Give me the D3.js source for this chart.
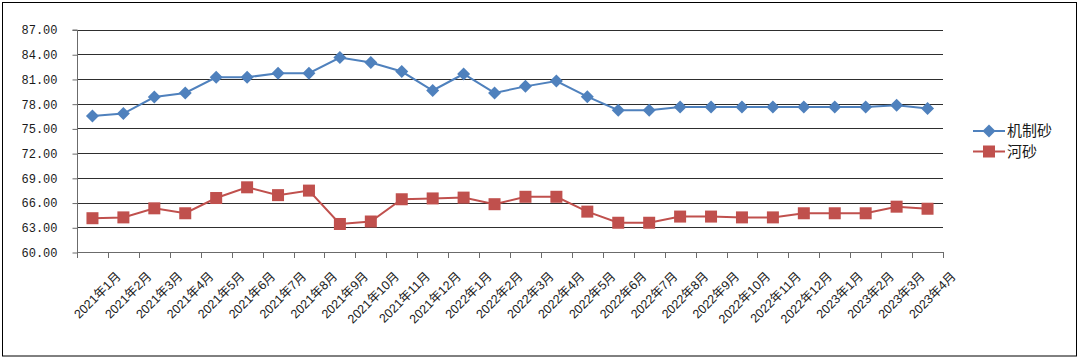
<!DOCTYPE html>
<html><head><meta charset="utf-8">
<script src="https://cdn.jsdelivr.net/npm/d3@7"></script>
<style>body{margin:0;background:#fff;} svg{display:block;}</style>
</head><body>
<svg id="c" width="1080" height="358"></svg>
<script>
const categories = ["2021年1月","2021年2月","2021年3月","2021年4月","2021年5月","2021年6月","2021年7月","2021年8月","2021年9月","2021年10月","2021年11月","2021年12月","2022年1月","2022年2月","2022年3月","2022年4月","2022年5月","2022年6月","2022年7月","2022年8月","2022年9月","2022年10月","2022年11月","2022年12月","2023年1月","2023年2月","2023年3月","2023年4月"];
const jizhisha = [76.5,76.8,78.8,79.3,81.2,81.2,81.7,81.7,83.6,83.0,81.9,79.6,81.6,79.3,80.1,80.75,78.85,77.2,77.2,77.6,77.6,77.6,77.6,77.6,77.6,77.6,77.8,77.4];
const hesha = [64.1,64.2,65.3,64.7,66.55,67.85,66.9,67.45,63.4,63.7,66.4,66.5,66.6,65.8,66.7,66.7,64.9,63.55,63.55,64.3,64.3,64.2,64.2,64.7,64.7,64.7,65.5,65.25];
const yTicks = [60,63,66,69,72,75,78,81,84,87];
const seriesNames = ["机制砂","河砂"];
const colors = ["#4F81BD","#C0504D"];

const svg = d3.select("#c");
svg.append("rect").attr("x",2.5).attr("y",2.5).attr("width",1074).attr("height",353.5)
  .attr("fill","#fff").attr("stroke","#000").attr("stroke-width",1);

const x0 = 77, x1 = 943;
const x = d3.scaleBand().domain(categories).range([x0,x1]);
const y = d3.scaleLinear().domain([60,87]).range([252,29.5]);

const g = svg.append("g");
g.selectAll("line.grid").data(yTicks.filter(d=>d>60)).join("line").attr("class","grid")
  .attr("x1",x0).attr("x2",x1)
  .attr("y1",d=>Math.round(y(d))+0.5).attr("y2",d=>Math.round(y(d))+0.5)
  .attr("stroke","#2e2e2e").attr("stroke-width",1);

const yAxis = d3.axisLeft(y).tickValues(yTicks).tickSize(5).tickPadding(15).tickFormat(d3.format(".2f"));
const ya = svg.append("g").attr("transform",`translate(${x0+0.5},0.5)`).call(yAxis);
ya.select(".domain").attr("stroke","#6b6b6b").attr("d",`M-5,${y(87)}H0V${y(60)}`);
ya.selectAll(".tick line").attr("stroke","#6b6b6b");
ya.selectAll("text").attr("font-family","'Liberation Mono', monospace").attr("font-size",12).attr("fill","#1a1a1a");

const bounds = categories.map(c=>x(c)).concat([x1]);
svg.append("line").attr("x1",x0).attr("x2",x1).attr("y1",252.5).attr("y2",252.5).attr("stroke","#6b6b6b");
svg.selectAll("line.xt").data(bounds).join("line").attr("class","xt")
  .attr("x1",d=>Math.round(d)+0.5).attr("x2",d=>Math.round(d)+0.5).attr("y1",252).attr("y2",258)
  .attr("stroke","#6b6b6b");

svg.selectAll("text.xl").data(categories).join("text").attr("class","xl")
  .attr("transform",d=>`translate(${x(d)+x.bandwidth()/2+22},270) rotate(-45)`)
  .attr("text-anchor","end").attr("dy","0.8em")
  .attr("font-family","'Liberation Sans','Noto Sans CJK SC',sans-serif").attr("font-size",12.5).attr("fill","#1a1a1a")
  .text(d=>d);

const cx = d=>x(d)+x.bandwidth()/2;
const line = d3.line().x((d,i)=>cx(categories[i])).y(d=>y(d));
[jizhisha, hesha].forEach((vals,si)=>{
  svg.append("path").datum(vals).attr("d",line).attr("fill","none")
    .attr("stroke",colors[si]).attr("stroke-width",2);
});
svg.selectAll("path.dm").data(jizhisha).join("path").attr("class","dm")
  .attr("d",(d,i)=>{const px=cx(categories[i]),py=y(d),r=6.5;return `M${px},${py-r}L${px+r},${py}L${px},${py+r}L${px-r},${py}Z`;})
  .attr("fill",colors[0]);
svg.selectAll("rect.sq").data(hesha).join("rect").attr("class","sq")
  .attr("x",(d,i)=>cx(categories[i])-6).attr("y",d=>y(d)-6).attr("width",12).attr("height",12)
  .attr("fill",colors[1]);

const lg = svg.append("g");
seriesNames.forEach((n,i)=>{
  const ly = 131 + i*20.5;
  lg.append("line").attr("x1",973).attr("x2",1005).attr("y1",ly).attr("y2",ly).attr("stroke",colors[i]).attr("stroke-width",2);
  if(i===0){
    lg.append("path").attr("d",`M989,${ly-6.5}L995.5,${ly}L989,${ly+6.5}L982.5,${ly}Z`).attr("fill",colors[i]);
  } else {
    lg.append("rect").attr("x",983).attr("y",ly-6).attr("width",12).attr("height",12).attr("fill",colors[i]);
  }
  lg.append("text").attr("x",1007).attr("y",ly).attr("dy","0.36em").attr("font-family","'Noto Sans CJK SC',sans-serif")
    .attr("font-size",15).attr("fill","#1a1a1a").text(n);
});
</script>
</body></html>
